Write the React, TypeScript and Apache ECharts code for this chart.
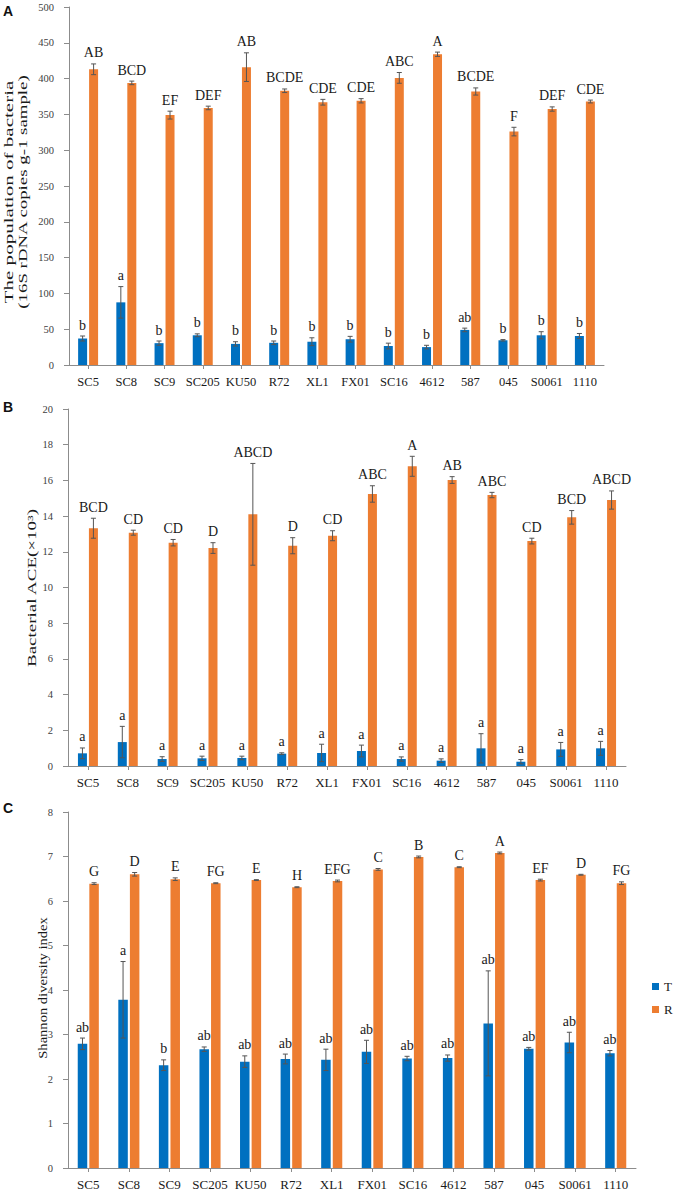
import React, { useEffect, useRef } from "react";
import * as echarts from "echarts";

const categories = ["SC5", "SC8", "SC9", "SC205", "KU50", "R72", "XL1", "FX01", "SC16", "4612", "587", "045", "S0061", "1110"];

// Panel A: bacterial population
const aT = [37, 87.5, 30.5, 41.5, 29.5, 31, 32.5, 36, 26.5, 25, 49, 34.5, 41.5, 40.5];
const aTErr = [3.5, 22, 3, 2, 3, 2.5, 5.5, 4, 4, 2.5, 2.5, 1, 5, 3.5];
const aR = [413, 394, 349, 359, 416, 383, 367, 369, 401, 434, 382, 326, 357.5, 368];
const aRErr = [7.5, 2.5, 5.5, 2.5, 20, 2.5, 4, 3, 7.5, 3, 5, 6, 3, 2];
const aTLetters = ["b", "a", "b", "b", "b", "b", "b", "b", "b", "b", "ab", "b", "b", "b"];
const aRLetters = ["AB", "BCD", "EF", "DEF", "AB", "BCDE", "CDE", "CDE", "ABC", "A", "BCDE", "F", "DEF", "CDE"];

// Panel B: ACE
const bT = [0.71, 1.34, 0.39, 0.43, 0.45, 0.69, 0.73, 0.84, 0.39, 0.3, 0.99, 0.24, 0.93, 0.99];
const bTErr = [0.3, 0.88, 0.13, 0.12, 0.1, 0.05, 0.49, 0.33, 0.12, 0.1, 0.82, 0.12, 0.39, 0.39];
const bR = [13.32, 13.07, 12.51, 12.21, 14.1, 12.34, 12.9, 15.24, 16.79, 16.02, 15.18, 12.6, 13.93, 14.9];
const bRErr = [0.56, 0.14, 0.18, 0.3, 2.85, 0.45, 0.28, 0.46, 0.56, 0.19, 0.15, 0.16, 0.38, 0.51];
const bTLetters = ["a", "a", "a", "a", "a", "a", "a", "a", "a", "a", "a", "a", "a", "a"];
const bRLetters = ["BCD", "CD", "CD", "D", "ABCD", "D", "CD", "ABC", "A", "AB", "ABC", "CD", "BCD", "ABCD"];

// Panel C: Shannon
const cT = [2.79, 3.78, 2.31, 2.67, 2.39, 2.45, 2.43, 2.61, 2.46, 2.47, 3.25, 2.68, 2.82, 2.58];
const cTErr = [0.13, 0.86, 0.12, 0.05, 0.13, 0.11, 0.24, 0.26, 0.05, 0.07, 1.18, 0.03, 0.23, 0.06];
const cR = [6.39, 6.6, 6.49, 6.4, 6.47, 6.31, 6.45, 6.71, 6.99, 6.76, 7.08, 6.47, 6.59, 6.4];
const cRErr = [0.02, 0.04, 0.03, 0.01, 0.01, 0.01, 0.02, 0.02, 0.02, 0.01, 0.02, 0.02, 0.01, 0.03];
const cTLetters = ["ab", "a", "b", "ab", "ab", "ab", "ab", "ab", "ab", "ab", "ab", "ab", "ab", "ab"];
const cRLetters = ["G", "D", "E", "FG", "E", "H", "EFG", "C", "B", "C", "A", "EF", "D", "FG"];

const BLUE = "#0070C0";
const ORANGE = "#ED7D31";
const SERIF = "Liberation Serif";
const SANS = "Liberation Sans";
const AXIS = "#8c8c8c";
const ERR = "#555555";

export default function App() {
  const ref = useRef<HTMLDivElement>(null);

  useEffect(() => {
    if (!ref.current) return;
    const chart = echarts.init(ref.current, undefined, { renderer: "svg" });

    const panels = [
      { grid: { left: 69, top: 7, width: 535, height: 358 }, max: 500, interval: 50, barW: 9, lab: 12.5, T: aT, TE: aTErr, R: aR, RE: aRErr, TL: aTLetters, RL: aRLetters },
      { grid: { left: 68, top: 409, width: 558, height: 357 }, max: 20, interval: 2, barW: 9, lab: 13, T: bT, TE: bTErr, R: bR, RE: bRErr, TL: bTLetters, RL: bRLetters },
      { grid: { left: 68, top: 812, width: 568, height: 356 }, max: 8, interval: 1, barW: 9.5, lab: 13, T: cT, TE: cTErr, R: cR, RE: cRErr, TL: cTLetters, RL: cRLetters },
    ];
    const gapRatio = 0.22;

    const grids: any[] = [];
    const xAxes: any[] = [];
    const yAxes: any[] = [];
    const series: any[] = [];

    panels.forEach((p, pi) => {
      grids.push(p.grid);
      xAxes.push({
        type: "category",
        gridIndex: pi,
        data: categories,
        axisLine: { show: true, lineStyle: { color: AXIS, width: 1 } },
        axisTick: { show: true, alignWithLabel: true, length: 4, lineStyle: { color: AXIS } },
        axisLabel: { interval: 0, fontSize: p.lab, fontFamily: SERIF, color: "#1a1a1a", margin: 10 },
        splitLine: { show: false },
      });
      yAxes.push({
        type: "value",
        gridIndex: pi,
        min: 0,
        max: p.max,
        interval: p.interval,
        axisLine: { show: true, lineStyle: { color: AXIS, width: 1 } },
        axisTick: { show: true, length: 5, lineStyle: { color: AXIS } },
        axisLabel: { fontSize: 10.5, fontFamily: SERIF, color: "#404040", margin: 15 },
        splitLine: { show: false },
      });
      const gapStr = Math.round(gapRatio * 100) + "%";
      series.push({
        name: "T", type: "bar", xAxisIndex: pi, yAxisIndex: pi, data: p.T,
        barWidth: p.barW, barGap: gapStr, itemStyle: { color: BLUE },
      });
      series.push({
        name: "R", type: "bar", xAxisIndex: pi, yAxisIndex: pi, data: p.R,
        barWidth: p.barW, barGap: gapStr, itemStyle: { color: ORANGE },
      });
      const half = (p.barW + p.barW * gapRatio) / 2;
      const mkErr = (vals: number[], errs: number[], letters: string[], sign: number) => ({
        type: "custom",
        xAxisIndex: pi,
        yAxisIndex: pi,
        z: 5,
        silent: true,
        data: vals.map((v, i) => [i, v, errs[i]]),
        encode: { x: 0, y: 1 },
        renderItem: (params: any, api: any) => {
          const i = api.value(0);
          const v = api.value(1);
          const e = api.value(2);
          const top = api.coord([i, v + e]);
          const bot = api.coord([i, v - e]);
          const x = top[0] + sign * half;
          const cap = 2.5;
          const st = { stroke: ERR, lineWidth: 1 };
          return {
            type: "group",
            children: [
              { type: "line", shape: { x1: x, y1: top[1], x2: x, y2: bot[1] }, style: st },
              { type: "line", shape: { x1: x - cap, y1: top[1], x2: x + cap, y2: top[1] }, style: st },
              { type: "line", shape: { x1: x - cap, y1: bot[1], x2: x + cap, y2: bot[1] }, style: st },
              {
                type: "text",
                style: {
                  text: letters[params.dataIndex],
                  x: x,
                  y: top[1] - 4,
                  align: "center",
                  verticalAlign: "bottom",
                  fontSize: 14,
                  fontFamily: SERIF,
                  fill: "#1a1a1a",
                },
              },
            ],
          };
        },
      });
      series.push(mkErr(p.T, p.TE, p.TL, -1));
      series.push(mkErr(p.R, p.RE, p.RL, 1));
    });

    const titleStyle = (text: string, size: number) => ({
      text,
      fontSize: size,
      fontFamily: SERIF,
      fill: "#1a1a1a",
      align: "center",
      verticalAlign: "middle",
    });

    const graphic: any[] = [
      { type: "text", x: 9, y: 192, rotation: Math.PI / 2, scaleX: 1.62, style: titleStyle("The population of bacteria", 13) },
      { type: "text", x: 23, y: 192, rotation: Math.PI / 2, scaleX: 1.45, style: titleStyle("(16S rDNA copies g-1 sample)", 13) },
      { type: "text", x: 32, y: 588, rotation: Math.PI / 2, scaleX: 1.46, style: titleStyle("Bacterial ACE(×10³)", 13) },
      { type: "text", x: 43, y: 988, rotation: Math.PI / 2, scaleX: 1.12, style: titleStyle("Shannon diversity index", 13) },
      { type: "text", x: 3, y: 4, style: { text: "A", fontSize: 14, fontWeight: "bold", fontFamily: SANS, fill: "#111" } },
      { type: "text", x: 3, y: 400, style: { text: "B", fontSize: 14, fontWeight: "bold", fontFamily: SANS, fill: "#111" } },
      { type: "text", x: 3, y: 801, style: { text: "C", fontSize: 14, fontWeight: "bold", fontFamily: SANS, fill: "#111" } },
    ];

    chart.setOption({
      animation: false,
      backgroundColor: "#ffffff",
      textStyle: { fontFamily: SERIF },
      grid: grids,
      xAxis: xAxes,
      yAxis: yAxes,
      series,
      graphic,
      legend: {
        data: ["T", "R"],
        orient: "vertical",
        left: 652,
        top: 980,
        itemWidth: 7,
        itemHeight: 7,
        itemGap: 10,
        icon: "rect",
        textStyle: { fontSize: 13, fontFamily: SERIF, color: "#1a1a1a" },
        padding: 0,
      },
    });

    return () => {
      chart.dispose();
    };
  }, []);

  return <div ref={ref} style={{ position: "absolute", left: 0, top: 0, width: 675, height: 1191 }} />;
}
